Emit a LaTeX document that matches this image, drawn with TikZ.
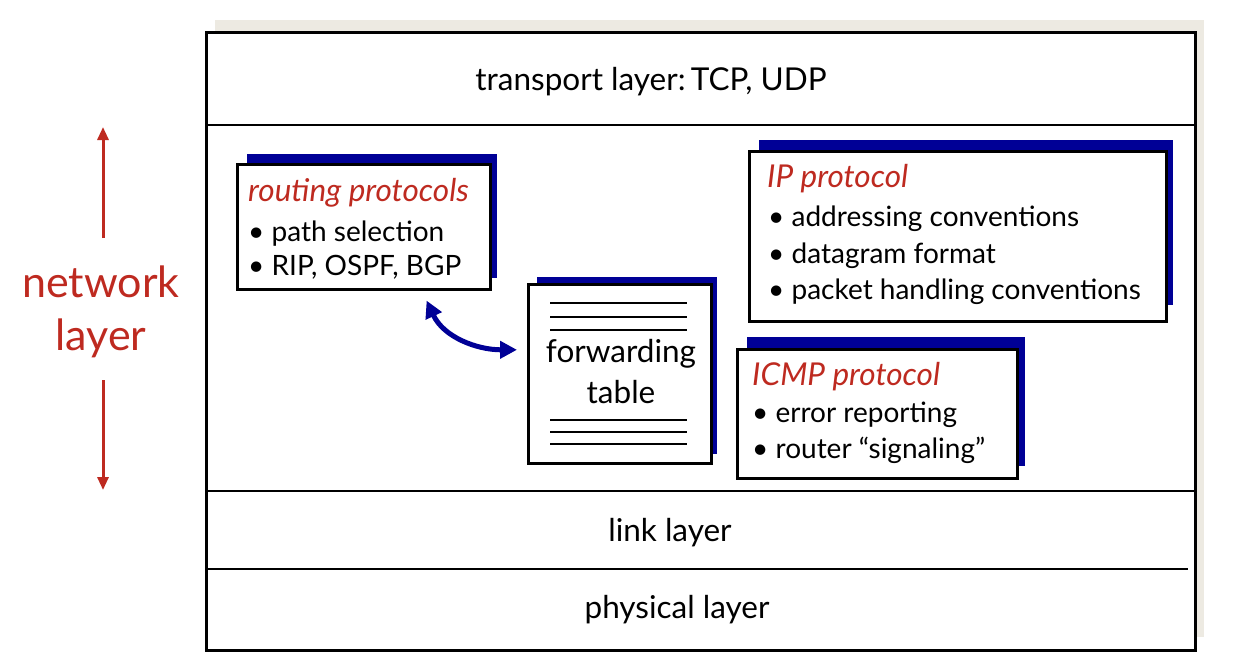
\documentclass[tikz,border=0pt]{standalone}
\usepackage{fontspec}
\setmainfont{Lato}
\usetikzlibrary{arrows.meta,calc}
\definecolor{netred}{RGB}{190,42,32}
\definecolor{shadowblue}{RGB}{0,0,150}
\definecolor{paper}{RGB}{237,234,226}
\begin{document}
\begin{tikzpicture}[x=1pt,y=-1pt,
  panel/.style={draw=black,line width=2.6pt,fill=white,inner sep=0pt,anchor=north west},
  shade/.style={fill=shadowblue,draw=none},
  sep/.style={line width=2.4pt},
  body/.style={font=\fontsize{28}{32}\selectfont,inner sep=0pt},
  head/.style={font=\fontsize{31.5}{36}\selectfont\itshape,text=netred,inner sep=0pt},
  layertext/.style={font=\fontsize{31.5}{36}\selectfont,inner sep=0pt},
  redlabel/.style={font=\fontsize{43}{48}\selectfont,text=netred,inner sep=0pt,anchor=base},
  rule/.style={line width=2.2pt},
  redarrow/.style={draw=netred,line width=3pt,-{Triangle[length=13pt,width=11pt]}},
]
\useasboundingbox (0,0) rectangle (1236,662);

% backdrop and outer stack frame
\fill[paper] (215,20) rectangle (1204,637);
\node[panel,line width=3pt,minimum width=989pt,minimum height=618pt] (stack) at (205,31) {};
\draw[sep] (stack.west |- 0,125) -- (stack.east |- 0,125);
\draw[sep] (stack.west |- 0,491) -- (stack.east |- 0,491);
\draw[sep] (stack.west |- 0,569) -- (1188,569);

% layer labels
\node[layertext,anchor=base] (transport) at (651,90) {transport layer:\,TCP, UDP};
\node[layertext,anchor=base] (link) at (670,541) {link layer};
\node[layertext,anchor=base] (phys) at (677,618) {physical layer};

% network layer label with arrows
\node[redlabel] (netw) at (101,297) {network};
\node[redlabel] (netl) at (101,350) {layer};
\coordinate (uptop) at (103,127);
\coordinate (downbot) at (103,490);
\draw[redarrow] (103,238) -- (uptop);
\draw[redarrow] (103,380) -- (downbot);

% routing protocols box
\fill[shade] (247,154) rectangle (497,278);
\node[panel,minimum width=253pt,minimum height=125pt] (route) at (236,163) {};
\node[head,anchor=base west] at (248,201) {routing protocols};
\node[body,anchor=base west] at (248,241) {\textbullet\ path selection};
\node[body,anchor=base west] at (248,275) {\textbullet\ RIP, OSPF, BGP};

% forwarding table box
\fill[shade] (537,277) rectangle (717,454);
\node[panel,minimum width=183pt,minimum height=179pt] (table) at (527,283) {};
\foreach \yy in {303,317,330,420,432,444}
  \draw[rule] (550,\yy) -- (687,\yy);
\node[layertext,anchor=base] at (621,362) {forwarding};
\node[layertext,anchor=base] at (621,403) {table};

% IP protocol box
\fill[shade] (759,140) rectangle (1173,305);
\node[panel,minimum width=417pt,minimum height=170pt] (ip) at (748,150) {};
\node[head,anchor=base west] at (767,187) {IP protocol};
\node[body,anchor=base west] at (768,226) {\textbullet\ addressing conventions};
\node[body,anchor=base west] at (768,263) {\textbullet\ datagram format};
\node[body,anchor=base west] at (768,299) {\textbullet\ packet handling conventions};

% ICMP protocol box
\fill[shade] (747,337) rectangle (1025,466);
\node[panel,minimum width=280pt,minimum height=129pt] (icmp) at (736,348) {};
\node[head,anchor=base west] at (752,385) {ICMP protocol};
\node[body,anchor=base west] at (752,422) {\textbullet\ error reporting};
\node[body,anchor=base west] at (752,458) {\textbullet\ router “signaling”};

% exchange between routing protocols and forwarding table
\draw[draw=shadowblue,line width=5pt,{Triangle[length=17pt,width=17pt]}-{Triangle[length=17pt,width=17pt]}]
  ($(route.south east)+(-65,10)$) to[out=-65,in=180] ($(table.west)+(-10,-24)$);
\end{tikzpicture}
\end{document}
